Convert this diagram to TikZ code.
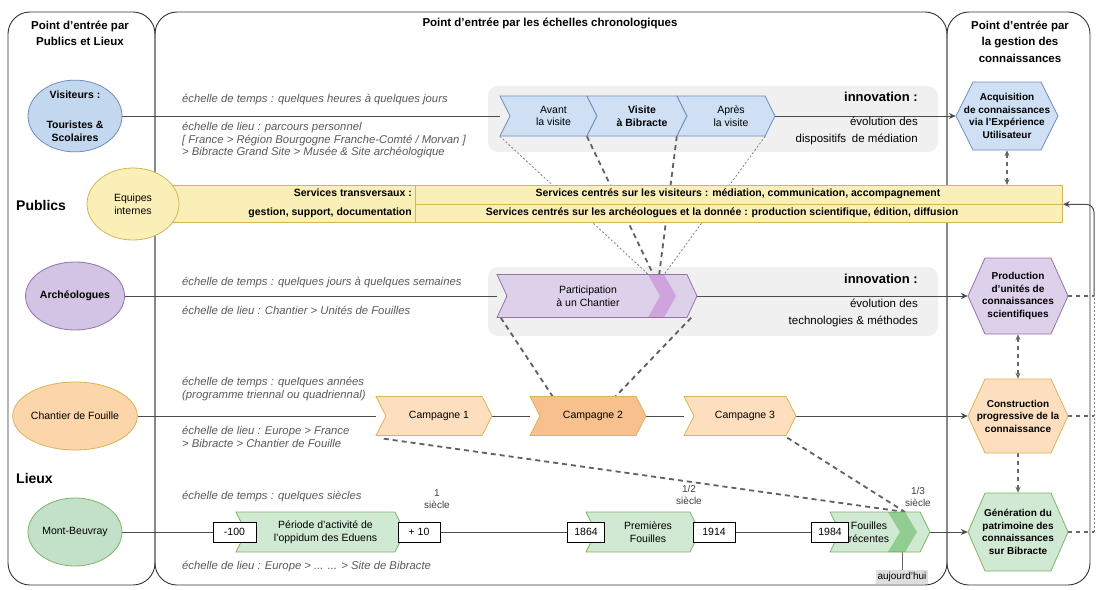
\documentclass[tikz,border=0pt]{standalone}
\usepackage{fontspec}
\setmainfont{Liberation Sans}
\usetikzlibrary{arrows.meta,calc,shapes.geometric}
\definecolor{bluF}{HTML}{CFE0F5}
\definecolor{bluE}{HTML}{C3D7EF}
\definecolor{bluD}{HTML}{6C8EBF}
\definecolor{yelF}{HTML}{FBEFB8}
\definecolor{yelD}{HTML}{D6B656}
\definecolor{purF}{HTML}{DDD0EA}
\definecolor{purE}{HTML}{D3C3E4}
\definecolor{purD}{HTML}{9673A6}
\definecolor{oraF}{HTML}{FDDFC0}
\definecolor{oraE}{HTML}{FCD5AA}
\definecolor{oraD}{HTML}{D6B656}
\definecolor{oraS}{HTML}{F8C08C}
\definecolor{greF}{HTML}{D0E9D2}
\definecolor{greE}{HTML}{C2E1C8}
\definecolor{greD}{HTML}{82B366}
\definecolor{txtG}{HTML}{5A5A5A}
\pgfdeclarelayer{back}
\pgfdeclarelayer{lines}
\pgfsetlayers{back,lines,main}
\def\ch{20}\def\cd{10}\def\tdx{0}\def\hd{17}
% chevron: fill, draw, name, xl, xr, y, text
\newcommand\chev[7]{%
  \filldraw[fill=#1,draw=#2,line width=.8pt] (#4,#6-\ch) -- (#5-\cd,#6-\ch) -- (#5,#6) -- (#5-\cd,#6+\ch) -- (#4,#6+\ch) -- (#4+\cd,#6) -- cycle;
  \node[inner sep=0,minimum width={#5-#4},minimum height={2*\ch}] (#3) at ({(#4+#5)/2},#6) {};
  \node[chevtxt] at ({(#4+#5)/2+\cd/2+\tdx},#6) {#7};
}
% hexagon: fill, draw, name, cx, cy, half width, half height, text
\newcommand\hexa[8]{%
  \filldraw[fill=#1,draw=#2,line width=.8pt] (#4-#6+\hd,#5-#7) -- (#4+#6-\hd,#5-#7) -- (#4+#6,#5) -- (#4+#6-\hd,#5+#7) -- (#4-#6+\hd,#5+#7) -- (#4-#6,#5) -- cycle;
  \node[hextxt,minimum width={2*#6},minimum height={2*#7}] (#3) at (#4,#5) {#8};
}
\begin{document}
\begin{tikzpicture}[x=1pt,y=-1pt,
  hdr/.style={font=\bfseries\fontsize{11.5}{16.5}\selectfont,align=center,inner sep=0},
  itx/.style={font=\itshape\fontsize{11.3}{12.6}\selectfont,text=txtG,align=left,anchor=west,inner sep=0},
  ell/.style={ellipse,line width=.8pt,inner sep=0,minimum width=94,minimum height=68,align=center,font=\fontsize{10.5}{13}\selectfont},
  chevtxt/.style={font=\fontsize{10.5}{12.5}\selectfont,align=center,inner sep=0},
  hextxt/.style={font=\bfseries\fontsize{10}{12.5}\selectfont,align=center,inner sep=0},
  yr/.style={draw=black,fill=white,line width=.9pt,minimum width=40,minimum height=20,inner sep=0,font=\fontsize{10.5}{12}\selectfont},
  sm/.style={font=\fontsize{10}{12.5}\selectfont,align=center,inner sep=0,text=black!75},
  inno/.style={font=\bfseries\fontsize{13}{15}\selectfont,anchor=east,inner sep=0},
  evo/.style={font=\fontsize{11.5}{16.5}\selectfont,align=right,anchor=north east,inner sep=0},
  bandbox/.style={draw=yelD,fill=yelF,line width=.8pt,inner sep=0},
  bandtxt/.style={font=\bfseries\fontsize{10.5}{19}\selectfont,inner sep=0},
  conn/.style={draw=black!70,line width=1pt},
  arr/.style={conn,-{Stealth[length=7pt,width=6pt]}},
  dsh/.style={draw=black!62,line width=1.8pt,dash pattern=on 5pt off 4pt},
  dthin/.style={draw=black!50,line width=.8pt,dash pattern=on 2pt off 2pt},
  dsr/.style={draw=black!60,line width=1.4pt,dash pattern=on 4pt off 4pt},
  panel/.style={draw=black!80,line width=.9pt,rounded corners=22},
  grayband/.style={fill=black!6,rounded corners=10},
]
\path[use as bounding box] (0,0) rectangle (1099,589);
\begin{pgfonlayer}{back}
  \fill[white] (0,0) rectangle (1099,589);
  \draw[panel] (8,12) rectangle (155,585);
  \draw[panel] (155,12) rectangle (947,585);
  \draw[panel] (947,12) rectangle (1090,585);
  \fill[grayband] (488,86) rectangle (938,152);
  \fill[grayband] (488,267) rectangle (938,336);
\end{pgfonlayer}

% headers
\node[hdr] (h1) at (80,33.5) {Point d'entrée par\\Publics et Lieux};
\node[hdr] (h2) at (550,24) {Point d'entrée par les échelles chronologiques};
\node[hdr] (h3) at (1020,41.5) {Point d'entrée par\\la gestion des\\connaissances};
\node[font=\bfseries\fontsize{14}{16}\selectfont,anchor=west,inner sep=0] (pub) at (16,205) {Publics};
\node[font=\bfseries\fontsize{14}{16}\selectfont,anchor=west,inner sep=0] (lieux) at (16,478) {Lieux};

% yellow band
\node[bandbox,minimum width=255,minimum height=37,anchor=north west] (bandL) at (160,185) {};
\node[bandbox,minimum width=647,minimum height=18.5,anchor=north west] (bandU) at (415,185) {};
\node[bandbox,minimum width=647,minimum height=18.5,anchor=north west] (bandD) at (415,203.5) {};
\node[bandtxt,anchor=east,align=right] (bt0) at (412,203.5) {Services transversaux :\\gestion, support, documentation};
\node[bandtxt] (bt1) at (738,194) {Services centrés sur les visiteurs : médiation, communication, accompagnement};
\node[bandtxt] (bt2) at (722,213) {Services centrés sur les archéologues et la donnée : production scientifique, édition, diffusion};

% ellipses
\node[ell,fill=bluE,draw=bluD,font=\bfseries\fontsize{10.5}{13}\selectfont] (vis) at (75,116) {Visiteurs :\\[17pt]Touristes \&\\Scolaires};
\node[ell,fill=yelF,draw=yelD,minimum width=92,minimum height=72] (eq) at (133,204) {Equipes\\internes};
\node[ell,fill=purE,draw=purD,font=\bfseries\fontsize{10.5}{13}\selectfont] (arch) at (75,296) {Archéologues};
\node[ell,fill=oraE,draw=oraD] (chant) at (75,416) {Chantier de Fouille};
\node[ell,fill=greE,draw=greD] (mont) at (75,532) {Mont-Beuvray};

% row 1 chevrons
\chev{bluF}{bluD}{avant}{500}{597}{116}{Avant\\la visite}
\chev{bluF}{bluD}{visite}{587}{687}{116}{\textbf{Visite}\\\textbf{à Bibracte}}
\chev{bluF}{bluD}{apres}{677}{775}{116}{Après\\la visite}

% row 3 chevron
\def\ch{21.5}\def\tdx{-14}
\chev{purF}{purD}{part}{497}{697}{296}{Participation\\à un Chantier}
\fill[fill=purD!70!magenta,opacity=.35] (648,274.5) -- (664,274.5) -- (676,296) -- (664,317.5) -- (648,317.5) -- (660,296) -- cycle;

% row 4 chevrons
\def\ch{19.5}\def\tdx{0}
\chev{oraF}{oraD}{camp1}{376}{492}{416}{Campagne 1}
\chev{oraS}{oraD}{camp2}{530}{646}{416}{Campagne 2}
\chev{oraF}{oraD}{camp3}{684}{796}{416}{Campagne 3}

% row 5 chevrons
\def\ch{20}
\chev{greF}{greD}{periode}{236}{405}{532}{Période d'activité de\\l'oppidum des Eduens}
\chev{greF}{greD}{prem}{586}{700}{532}{Premières\\Fouilles}
\def\tdx{-16}
\chev{greF}{greD}{fouil}{830}{930}{532}{Fouilles\\récentes}
\fill[fill=green!55!black,opacity=.3] (888,512) -- (905,512) -- (917,532) -- (905,552) -- (888,552) -- (900,532) -- cycle;
\node[yr,minimum width=43] (m100) at (234.5,532) {-100};
\node[yr,minimum width=42] (p10) at (419,532) {+ 10};
\node[yr,minimum width=37] (y1864) at (586,532) {1864};
\node[yr,minimum width=42] (y1914) at (714,532) {1914};
\node[yr,minimum width=37] (y1984) at (830,532) {1984};
\node[sm] (s1) at (437,499) {1\\siècle};
\node[sm] (s2) at (689,495) {1/2\\siècle};
\node[sm] (s3) at (918,497) {1/3\\siècle};
\node[fill=black!13,inner sep=2pt,font=\fontsize{10}{12}\selectfont] (auj) at (902,577) {aujourd'hui};

% hexagons
\hexa{bluF}{bluD}{hx1}{1007}{116}{51}{34}{Acquisition\\de connaissances\\via l'Expérience\\Utilisateur}
\hexa{purF}{purD}{hx2}{1018}{296}{50}{38}{Production\\d'unités de\\connaissances\\scientifiques}
\hexa{oraF}{oraD}{hx3}{1018}{416}{50}{37}{Construction\\progressive de la\\connaissance}
\hexa{greF}{greD}{hx4}{1018}{532}{50}{39}{Génération du\\patrimoine des\\connaissances\\sur Bibracte}

% innovation texts
\node[inno] (inn1) at (918,97) {innovation :};
\node[evo] (evo1) at (918,117) {évolution des\\dispositifs\enspace de médiation};
\node[inno] (inn3) at (918,279) {innovation :};
\node[evo] (evo3) at (918,299) {évolution des\\technologies \& méthodes};

% italic scale texts
\node[itx] (t1a) at (182,100) {échelle de temps : quelques heures à quelques jours};
\node[itx,anchor=north west] (t1b) at (182,122) {échelle de lieu : parcours personnel\\{[} France > Région Bourgogne Franche-Comté / Morvan {]}\\> Bibracte Grand Site > Musée \& Site archéologique};
\node[itx] (t3a) at (182,283) {échelle de temps : quelques jours à quelques semaines};
\node[itx] (t3b) at (182,310) {échelle de lieu : Chantier > Unités de Fouilles};
\node[itx,anchor=north west] (t4a) at (182,377) {échelle de temps : quelques années\\(programme triennal ou quadriennal)};
\node[itx,anchor=north west] (t4b) at (182,426) {échelle de lieu : Europe > France\\> Bibracte > Chantier de Fouille};
\node[itx] (t5a) at (182,497) {échelle de temps : quelques siècles};
\node[itx] (t5b) at (182,567) {échelle de lieu : Europe > ... ... > Site de Bibracte};

% coordinates for free ends
\coordinate (pk1) at (650,276);
\coordinate (pk2) at (654,276);
\coordinate (pk3) at (659,276);
\coordinate (pk4) at (663,276);
\coordinate (c2a) at (553,397);
\coordinate (c2b) at (615,397);
\coordinate (fx) at (905,512);
\coordinate (r2) at (1094,296);
\coordinate (r3) at (1094,416);
\coordinate (r4) at (1094,532);

\begin{pgfonlayer}{lines}
  \draw[conn] (vis.east) -- (avant.west);
  \draw[arr] (apres.east) -- (hx1.west);
  \draw[conn] (arch.east) -- (part.west);
  \draw[arr] (part.east) -- (hx2.west);
  \draw[conn] (chant.east) -- (camp1.west);
  \draw[conn] (camp1.east) -- (camp2.west);
  \draw[conn] (camp2.east) -- (camp3.west);
  \draw[arr] (camp3.east) -- (hx3.west);
  \draw[conn] (mont.east) -- (m100.west);
  \draw[conn] (p10.east) -- (y1864.west);
  \draw[conn] (y1914.east) -- (y1984.west);
  \draw[arr] (fouil.east) -- (hx4.west);
  \draw[black!60,line width=.8pt] (auj.north) -- (auj.north |- fouil.south);
  % visit chevrons to participation
  \draw[dthin] (avant.south west) -- (pk1);
  \draw[dsh] (visite.south west) -- (pk2);
  \draw[dsh] (apres.south west) -- (pk3);
  \draw[dthin] ($(apres.south east)+(-10,0)$) -- (pk4);
  % participation to campagne 2
  \draw[dsh] ($(part.south west)+(4,0)$) -- (c2a);
  \draw[dsh] ($(part.south east)+(-6,0)$) -- (c2b);
  % campagnes to fouilles recentes
  \draw[dsh] ($(camp1.south west)+(8,3)$) -- (fx);
  \draw[dsh] ($(camp3.south east)+(-9,2)$) -- (fx);
  % right side
  \draw[dsr,{Stealth[length=6pt,width=5pt]}-{Stealth[length=6pt,width=5pt]}] (hx1.south) -- (hx1.south |- bandU.north);
  \draw[dsr,{Stealth[length=6pt,width=5pt]}-{Stealth[length=6pt,width=5pt]}] (hx2.south) -- (hx3.north);
  \draw[dsr,-{Stealth[length=6pt,width=5pt]}] (hx3.south) -- (hx4.north);
  \draw[dsr] (hx2.east) -- (r2);
  \draw[dsr] (hx3.east) -- (r3);
  \draw[dsr] (hx4.east) -- (r4);
  \draw[dthin] (r4) -- (r2);
  \draw[arr,rounded corners=8] (r2) |- (bandU.south east);
\end{pgfonlayer}
\end{tikzpicture}
\end{document}
